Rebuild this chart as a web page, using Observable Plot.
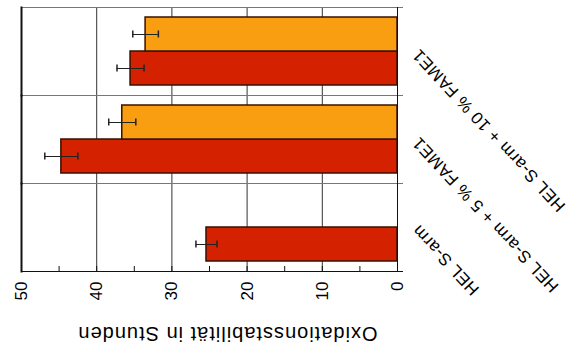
<!DOCTYPE html>
<html>
<head>
<meta charset="utf-8">
<script src="https://cdn.jsdelivr.net/npm/d3@7"></script>
<script src="https://cdn.jsdelivr.net/npm/@observablehq/plot@0.6"></script>
<style>
  html, body { margin: 0; padding: 0; background: #fff; }
  #chart svg { display: block; }
  #chart g[aria-label="fy-axis tick label"] text { letter-spacing: 0.6px; }
  #chart g[aria-label="text"] text { letter-spacing: 1px; }
</style>
</head>
<body>
<div id="chart"></div>
<script>
// Oxidation stability (hours) of HEL S-arm blends, two measurement series
const categories = ["HEL S-arm", "HEL S-arm + 5 % FAME1", "HEL S-arm + 10 % FAME1"];
const seriesNames = ["Reihe 1", "Reihe 2"];
const seriesColors = ["#d42200", "#f99e10"];
const reihe1Values = [25.4, 44.7, 35.5];
const reihe1Errors = [1.4, 2.2, 1.8];
const reihe2Values = [null, 36.6, 33.5];
const reihe2Errors = [null, 1.8, 1.7];
const valueTicks = [0, 10, 20, 30, 40, 50];
const minorTicks = [0, 5, 10, 15, 20, 25, 30, 35, 40, 45, 50];
const gridTicks = [10, 20, 30, 40];
const axisTitle = "Oxidationsstabilität in Stunden";

// long table for Plot
const rows = [];
categories.forEach((category, i) => {
  rows.push({category, series: seriesNames[0], value: reihe1Values[i], error: reihe1Errors[i]});
  if (reihe2Values[i] != null) {
    rows.push({category, series: seriesNames[1], value: reihe2Values[i], error: reihe2Errors[i]});
  }
});

const lo = d => d.value - d.error;
const hi = d => d.value + d.error;

const chart = Plot.plot({
  width: 578,
  height: 345,
  marginTop: 6,
  marginBottom: 73,
  marginLeft: 21,
  marginRight: 181,
  style: {fontFamily: "'Liberation Sans', Arial, sans-serif", background: "#fff", color: "#000"},
  x: {domain: [0, 50], reverse: true},
  y: {domain: [seriesNames[1], seriesNames[0]], paddingInner: 0, paddingOuter: 0.27, axis: null},
  fy: {domain: categories.slice().reverse(), padding: 0},
  color: {domain: seriesNames, range: seriesColors},
  marks: [
    Plot.gridX({ticks: gridTicks, stroke: "#333", strokeOpacity: 1}),
    Plot.frame({anchor: "bottom", stroke: "#111", insetRight: -5}),
    Plot.frame({anchor: "top", stroke: "#777", insetRight: -5}),
    Plot.frame({anchor: "left", stroke: "#111", strokeWidth: 2}),
    Plot.barX(rows, {fy: "category", y: "series", x: "value", fill: "series", stroke: "#3a1000", strokeWidth: 1.5}),
    Plot.frame({anchor: "right", stroke: "#111"}),
    Plot.ruleY(rows, {fy: "category", y: "series", x1: lo, x2: hi, stroke: "#222"}),
    Plot.tickX(rows, {fy: "category", y: "series", x: lo, insetTop: 13.5, insetBottom: 13.5, stroke: "#222", strokeWidth: 1.5}),
    Plot.tickX(rows, {fy: "category", y: "series", x: hi, insetTop: 13.5, insetBottom: 13.5, stroke: "#222", strokeWidth: 1.5}),
    Plot.axisX({ticks: minorTicks, tickSize: 5, dy: -5, tickFormat: () => "", label: null, stroke: "#111"}),
    Plot.axisX({ticks: valueTicks, tickSize: 0, tickRotate: -90, tickPadding: 10, fontSize: 17, label: null}),
    Plot.axisFy({anchor: "right", tickSize: 0, tickRotate: -133, textAnchor: "end", lineAnchor: "middle", tickPadding: 18, fontSize: 17, label: null}),
    Plot.text([axisTitle], {facet: "super", frameAnchor: "bottom", dy: 55, dx: 18, rotate: 180, fontSize: 20})
  ]
});

document.getElementById("chart").appendChild(chart);
</script>
</body>
</html>
